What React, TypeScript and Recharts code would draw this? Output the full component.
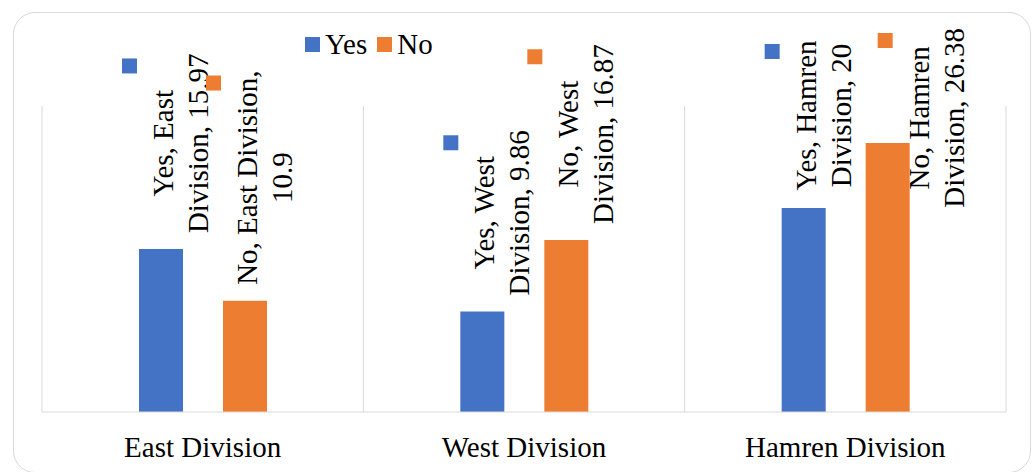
import React from 'react';
import { Bar, BarChart, CartesianGrid, LabelList, Legend, XAxis, YAxis } from 'recharts';

const categories = ['East Division', 'West Division', 'Hamren Division'];
const seriesNames = ['Yes', 'No'];
const yesValues = [15.97, 9.86, 20];
const noValues = [10.9, 16.87, 26.38];

const BLUE = '#4472C4';
const ORANGE = '#ED7D31';
const GRID = '#d9d9d9';
const FONT = 'Liberation Serif, Times New Roman, serif';
const FONT_SIZE = 29;

const chartData = categories.map((name, i) => ({
  name,
  Yes: yesValues[i],
  No: noValues[i],
}));

// rough Times advance widths (em), good enough for wrapping the labels
const CHAR_W: Record<string, number> = {
  ' ': 0.25, ',': 0.25, '.': 0.25,
  D: 0.722, E: 0.611, H: 0.722, N: 0.722, W: 0.944, Y: 0.722,
  a: 0.444, e: 0.444, i: 0.278, m: 0.778, n: 0.5, o: 0.5, r: 0.333, s: 0.389, t: 0.278, v: 0.5,
};

const textWidth = (s: string) =>
  s.split('').reduce((w, c) => w + (CHAR_W[c] ?? 0.5), 0) * FONT_SIZE;

const wrap = (text: string, maxW: number) => {
  const words = text.split(' ');
  const lines: string[] = [];
  let cur = '';
  words.forEach(w => {
    const next = cur ? `${cur} ${w}` : w;
    if (cur && textWidth(next) > maxW) {
      lines.push(cur);
      cur = w;
    } else {
      cur = next;
    }
  });
  if (cur) lines.push(cur);
  return lines;
};

// Excel-style rotated data label: "Series, Category, Value" with a legend key
const makeLabel = (series: string, color: string) => (props: any) => {
  const { x, y, width, value, index } = props;
  const lines = wrap(`${series}, ${categories[index]}, ${value}`, 222);
  const maxLen = Math.max(...lines.map(textWidth));
  const lineH = 35;

  let blockTop = y - 16 - maxLen;
  let baseline = x + width / 2 + 12;
  if (blockTop < 28) {
    // no room above the bar: pin to the top and slide right of the bar
    blockTop = 28;
    baseline = x + width + 19;
  }
  const cy = blockTop + maxLen / 2;

  return (
    <g>
      <rect x={baseline - 51} y={blockTop + 5} width={15} height={15} fill={color} />
      {lines.map((line, i) => {
        const bx = baseline + i * lineH;
        return (
          <text
            key={i}
            x={bx}
            y={cy}
            transform={`rotate(-90 ${bx} ${cy})`}
            textAnchor="middle"
            style={{ fontFamily: FONT, fontSize: FONT_SIZE }}
            fill="#000"
          >
            {line}
          </text>
        );
      })}
    </g>
  );
};

const renderLegend = (props: any) => {
  const { payload = [] } = props;
  const items = seriesNames.map(n => payload.find((p: any) => p.value === n)).filter(Boolean);
  return (
    <div style={{ display: 'flex', alignItems: 'center', fontFamily: FONT, fontSize: FONT_SIZE, color: '#000', lineHeight: 1 }}>
      {items.map((entry: any) => (
        <div key={entry.value} style={{ display: 'flex', alignItems: 'center', marginRight: 10 }}>
          <span style={{ display: 'inline-block', width: 15, height: 15, background: entry.color, marginRight: 5 }} />
          <span>{entry.value}</span>
        </div>
      ))}
    </div>
  );
};

const App: React.FC = () => {
  return (
    <div style={{ position: 'absolute', left: 0, top: 0, width: 1034, height: 472, background: '#fff', overflow: 'hidden' }}>
      <div
        style={{
          position: 'absolute',
          left: 13,
          top: 12,
          width: 1018,
          height: 461,
          border: `1.5px solid ${GRID}`,
          borderRadius: 22,
          boxSizing: 'border-box',
        }}
      />
      <div style={{ position: 'absolute', left: 0, top: 0 }}>
        <BarChart
          width={1034}
          height={472}
          data={chartData}
          margin={{ top: 106, right: 28, bottom: 0, left: 42 }}
          barSize={44}
          barGap={40}
        >
          <CartesianGrid
            horizontal={false}
            stroke={GRID}
            verticalCoordinatesGenerator={({ offset }: any) =>
              categories.map((_, i) => offset.left + (i * offset.width) / categories.length).concat(offset.left + offset.width)
            }
          />
          <XAxis
            dataKey="name"
            height={60}
            tickLine={false}
            axisLine={{ stroke: GRID }}
            tickMargin={18}
            tick={{ fontSize: FONT_SIZE, fill: '#000', style: { fontFamily: FONT } }}
          />
          <YAxis hide domain={[0, 30]} />
          <Legend
            layout="horizontal"
            verticalAlign="middle"
            align="center"
            content={renderLegend}
            wrapperStyle={{ position: 'absolute', top: 30, left: 305, width: 'auto', height: 'auto' }}
          />
          <Bar dataKey="Yes" fill={BLUE} isAnimationActive={false}>
            <LabelList dataKey="Yes" content={makeLabel('Yes', BLUE)} />
          </Bar>
          <Bar dataKey="No" fill={ORANGE} isAnimationActive={false}>
            <LabelList dataKey="No" content={makeLabel('No', ORANGE)} />
          </Bar>
        </BarChart>
      </div>
    </div>
  );
};

export default App;
